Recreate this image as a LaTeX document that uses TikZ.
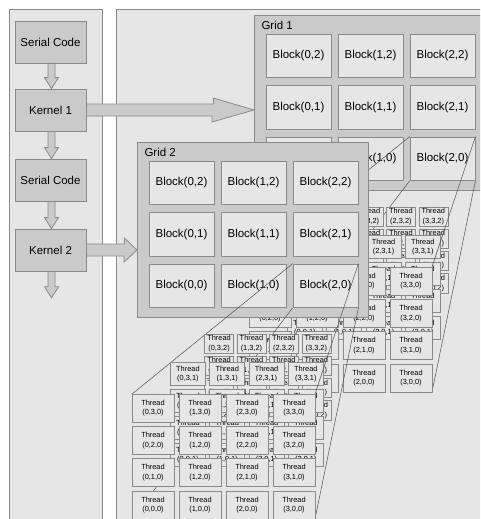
\documentclass[tikz,border=0pt]{standalone}
\usepackage{fontspec}
\setmainfont{Liberation Sans}
\usetikzlibrary{calc}
\definecolor{bgc}{HTML}{E6E6E6}
\definecolor{dkc}{HTML}{CACACA}
\definecolor{bdc}{HTML}{8A8A8A}
\definecolor{lnc}{HTML}{505050}
\tikzset{
  panel/.style={draw=bdc, fill=bgc, line width=0.8pt},
  gridbox/.style={draw=bdc, fill=dkc, line width=0.8pt, inner sep=0, minimum width=231pt, minimum height=175pt, anchor=north west},
  gridlabel/.style={anchor=west, font=\fontsize{11.5}{13}\selectfont},
  blockbox/.style={draw=bdc, fill=bgc, line width=0.8pt, minimum width=65pt, minimum height=43.5pt, inner sep=0, font=\fontsize{11.5}{13}\selectfont},
  codebox/.style={draw=bdc, fill=dkc, line width=0.8pt, minimum width=71pt, minimum height=42pt, inner sep=0, font=\fontsize{11.5}{13}\selectfont},
  thr/.style={draw=bdc, fill=bgc, line width=0.6pt, inner sep=0, align=center, font=\fontsize{7.4}{9.6}\selectfont},
  conn/.style={draw=lnc, line width=0.5pt},
  fatarrow/.style={draw=bdc, fill=dkc, line width=0.8pt, line join=miter},
}
% down fat arrow between two nodes
\newcommand\dnarrow[2]{%
  \draw[fatarrow] ($(#1.south)+(-2.5,0)$) -- ($(#2.north)+(-2.5,-11)$) -- ($(#2.north)+(-6,-11)$)
    -- ($(#2.north)+(1,0)$) -- ($(#2.north)+(8,-11)$) -- ($(#2.north)+(4.5,-11)$)
    -- ($(#1.south)+(4.5,0)$) -- cycle;}
% grid with 3x3 blocks: dx, dy, name, label
\newcommand\gridwithblocks[4]{%
  \pgfmathsetmacro\gx{254+#1}\pgfmathsetmacro\gy{15+#2}
  \pgfmathsetmacro\lx{258+#1}\pgfmathsetmacro\ly{25+#2}
  \node[gridbox] (#3) at (\gx,\gy) {};
  \node[gridlabel] (#3lab) at (\lx,\ly) {#4};
  \foreach \i in {0,1,2}{\foreach \j in {0,1,2}{
    \pgfmathsetmacro\bx{298.5+72*\i+#1}
    \pgfmathsetmacro\by{55.75+51.5*(2-\j)+#2}
    \node[blockbox] (#3b\i\j) at (\bx,\by) {Block(\i,\j)};
  }}}
% one layer of 4x4 threads: dx, dy, scale, z, prefix
\newcommand\threadlayer[5]{%
  \foreach \i in {0,...,3}{\foreach \j in {0,...,3}{
    \pgfmathsetmacro\cx{#1+366+#3*(153+47*\i-366)}
    \pgfmathsetmacro\cy{#2+200+#3*(408+32.3*(3-\j)-200)}
    \pgfmathsetmacro\tw{42*#3}
    \pgfmathsetmacro\th{28*#3}
    \pgfmathtruncatemacro\jl{((#4==0)&&(\i==1)&&(\j==1))?2:\j}
    \node[thr, minimum width=\tw pt, minimum height=\th pt] (#5-#4-\i-\j) at (\cx,\cy) {Thread\\(\i,\jl,#4)};
  }}}
% full stack: dx, dy, block node, prefix
\newcommand\threadstack[4]{%
  \pgfmathsetmacro\xa{132+#1}\pgfmathsetmacro\xb{315+#1}
  \pgfmathsetmacro\ya{394+#2}\pgfmathsetmacro\yb{519+#2}
  \coordinate (#4TL) at (\xa,\ya);
  \coordinate (#4TR) at (\xb,\ya);
  \coordinate (#4BL) at (\xa,\yb);
  \coordinate (#4BR) at (\xb,\yb);
  \draw[conn] (#3.north west) -- (#4TL);
  \draw[conn] (#3.south west) -- (#4BL);
  \threadlayer{#1}{#2}{0.69}{2}{#4}
  \threadlayer{#1}{#2}{0.836}{1}{#4}
  \draw[conn] (#3.north east) -- (#4TR);
  \draw[conn] (#3.south east) -- (#4BR);
  \threadlayer{#1}{#2}{1}{0}{#4}
}
\begin{document}
\begin{tikzpicture}[x=1pt,y=-1pt]
\useasboundingbox (0,0) rectangle (480,519);
\clip (0,0) rectangle (480,519);
\fill[white] (0,0) rectangle (480,519);
\draw[panel] (9,9) rectangle (102,530);
\draw[panel] (116,9) rectangle (495,530);
% host side
\node[codebox] (s1) at (50.5,42) {Serial Code};
\node[codebox] (k1) at (50.5,110) {Kernel 1};
\node[codebox] (s2) at (50.5,180) {Serial Code};
\node[codebox] (k2) at (50.5,250) {Kernel 2};
\node[inner sep=0, minimum size=0] (kend) at (50.5,298) {};
\dnarrow{s1}{k1}
\dnarrow{k1}{s2}
\dnarrow{s2}{k2}
\dnarrow{k2}{kend}
% grid 1
\gridwithblocks{0}{0}{ga}{Grid 1}
\draw[fatarrow] ($(k1.east)+(0,-6)$) -- ++(127,0) -- ++(0,-6) -- ($(ga.north west)+(0,95)$)
   -- ++(-42,12) -- ++(0,-6) -- ($(k1.east)+(0,6)$) -- cycle;
\threadstack{117}{-127}{gab20}{A}
% grid 2
\gridwithblocks{-117}{127}{gb}{Grid 2}
\draw[fatarrow] ($(k2.east)+(0,-6)$) -- ++(38,0) -- ++(0,-6) -- ($(gb.north west)+(0,108)$)
   -- ++(-13,12) -- ++(0,-6) -- ($(k2.east)+(0,6)$) -- cycle;
\threadstack{0}{0}{gbb20}{B}
\end{tikzpicture}
\end{document}
